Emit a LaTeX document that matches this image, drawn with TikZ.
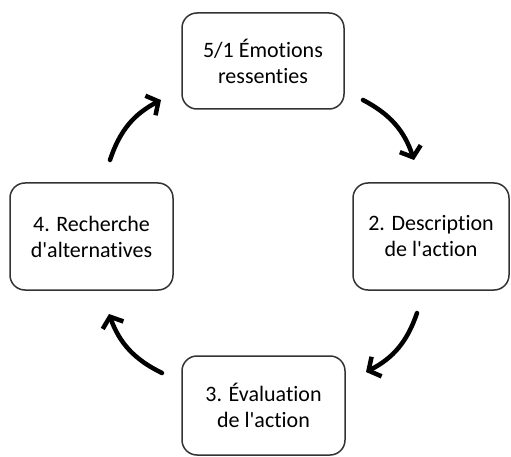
\documentclass[tikz,border=0pt]{standalone}
\usepackage{fontspec}
\setmainfont[Ligatures={NoCommon},RawFeature={-liga;-clig}]{Carlito}
\usetikzlibrary{arrows.meta}
\begin{document}
\begin{tikzpicture}[x=1pt,y=-1pt,
  stagebox/.style={draw=black!80,line width=1.5pt,rounded corners=15pt,fill=white,
    align=center,font=\fontsize{22}{26}\selectfont,inner sep=0pt},
  cyclearrow/.style={line width=4.5pt,line cap=round,
    -{Straight Barb[length=9pt,width=22pt,line width=4.5pt]},bend left=22}]
\useasboundingbox (0,0) rectangle (511,457);
\node[stagebox,minimum width=162pt,minimum height=96pt] (emo) at (263,61) {5/1 Émotions\\ressenties};
\node[stagebox,minimum width=156pt,minimum height=107pt] (desc) at (431,236.5) {2. Description\\de l\textquotesingle action};
\node[stagebox,minimum width=163pt,minimum height=99pt] (eval) at (263.5,405.5) {3. Évaluation\\de l\textquotesingle action};
\node[stagebox,minimum width=163pt,minimum height=107pt] (alt) at (91.5,236.5) {4. Recherche\\d\textquotesingle alternatives};
\coordinate (a1s) at (363,100); \coordinate (a1e) at (414,160);
\coordinate (a2s) at (417,313); \coordinate (a2e) at (366,372);
\coordinate (a3s) at (162,373); \coordinate (a3e) at (109,314);
\coordinate (a4s) at (110,160); \coordinate (a4e) at (161,100);
\draw[cyclearrow] (a1s) to (a1e);
\draw[cyclearrow] (a2s) to (a2e);
\draw[cyclearrow] (a3s) to (a3e);
\draw[cyclearrow] (a4s) to (a4e);
\end{tikzpicture}
\end{document}
